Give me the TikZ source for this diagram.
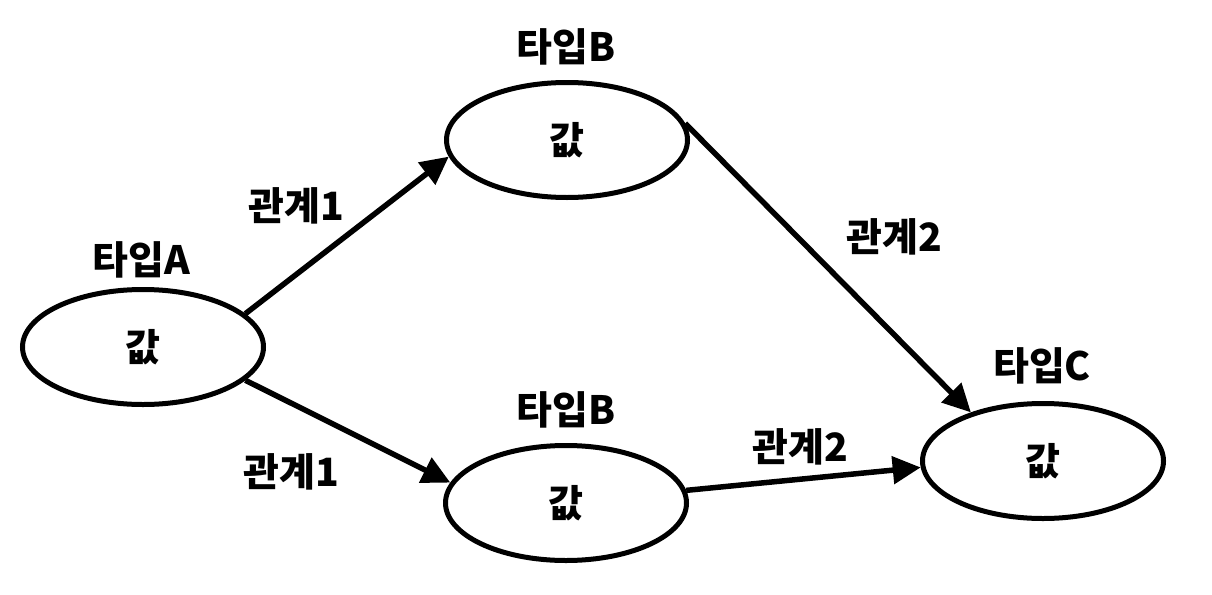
\documentclass[tikz,border=0pt]{standalone}
\usepackage{fontspec}
\setmainfont{Noto Sans CJK KR}[BoldFont={Noto Sans CJK KR Black}]
\usetikzlibrary{shapes.geometric,arrows.meta}
\tikzset{
  valbox/.style={draw=black, line width=5pt, shape=ellipse, minimum width=241pt, minimum height=115pt, inner sep=0pt, font=\fontsize{38}{42}\selectfont\bfseries},
  lbl/.style={inner sep=0pt, font=\fontsize{39}{42}\selectfont\bfseries},
  rel/.style={draw=black, line width=5.5pt, -{Triangle[length=28pt,width=27pt]}}
}
\begin{document}
\begin{tikzpicture}[x=1pt,y=-1pt]
\useasboundingbox[fill=white] (0,0) rectangle (1212,594);
\node[valbox] (A) at (143,347) {값};
\node[valbox] (B1) at (567,140) {값};
\node[valbox] (B2) at (566,503) {값};
\node[valbox] (C) at (1043,461) {값};
\node[lbl] (tA) at (141,260) {타입A};
\node[lbl] (tB1) at (566,47) {타입B};
\node[lbl] (tB2) at (566,410) {타입B};
\node[lbl] (tC) at (1042,366) {타입C};
\node[lbl] (r1a) at (296,206) {관계1};
\node[lbl] (r1b) at (291,472) {관계1};
\node[lbl] (r2a) at (894,237) {관계2};
\node[lbl] (r2b) at (800,447) {관계2};
\draw[rel] (A.18) -- (B1.188);
\draw[rel] (A.-18) -- (B2.170);
\draw[rel] (B1.8) -- (C.146);
\draw[rel] (B2.6) -- (C.183);
\end{tikzpicture}
\end{document}
